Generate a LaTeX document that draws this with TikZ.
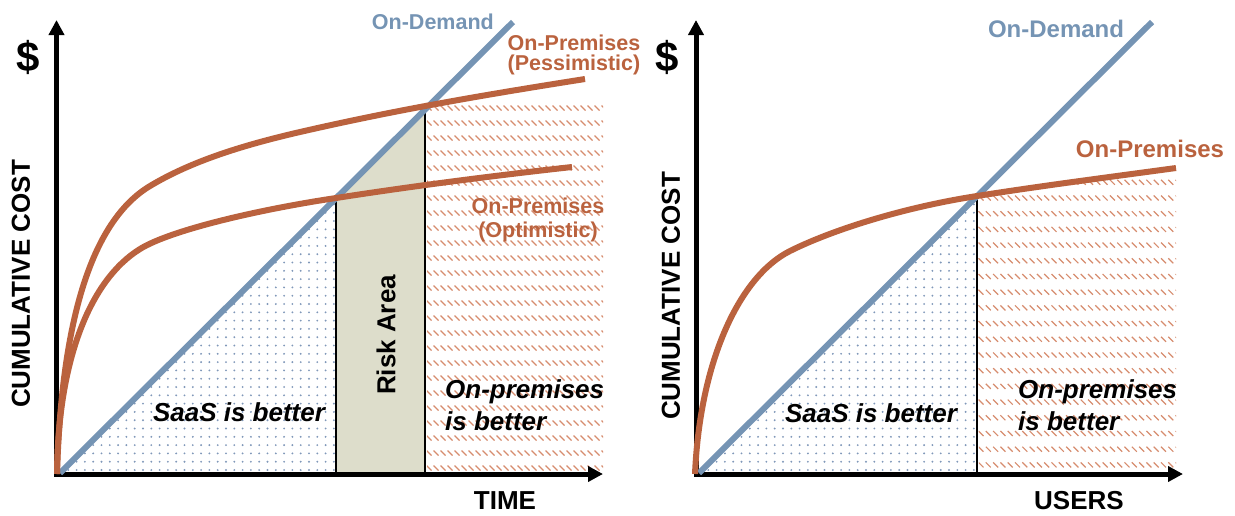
\documentclass[tikz,border=0pt]{standalone}
\usepackage{fontspec}
\setmainfont{Liberation Sans}
\usetikzlibrary{arrows.meta}
\definecolor{demand}{RGB}{117,148,180}
\definecolor{premise}{RGB}{186,98,62}
\definecolor{hatchc}{RGB}{214,140,110}
\definecolor{dotc}{RGB}{128,152,185}
\definecolor{riskc}{RGB}{221,221,203}
\tikzset{
  axisline/.style={line width=5pt,-{Triangle[length=15pt,width=15pt]}},
  demandline/.style={demand,line width=6pt},
  premline/.style={premise,line width=6pt},
  divider/.style={black,line width=1.5pt},
  hatchstroke/.style={hatchc,line width=1.2pt},
  dollar/.style={font=\bfseries\fontsize{42}{46}\selectfont,inner sep=0pt},
  axislabel/.style={font=\bfseries\fontsize{26}{29}\selectfont,inner sep=0pt},
  smalllbl/.style={font=\bfseries\fontsize{21.5}{25}\selectfont,inner sep=0pt},
  biglbl/.style={font=\bfseries\fontsize{24}{28}\selectfont,inner sep=0pt},
  regionlbl/.style={font=\bfseries\itshape\fontsize{26}{30}\selectfont,inner sep=0pt},
}
\begin{document}
\begin{tikzpicture}[x=1pt,y=-1pt]
\useasboundingbox (0,0) rectangle (1235,515);

% ---------------- left chart: cost over time ----------------
\coordinate (LO) at (56.5,474);
\coordinate (LYtop) at (56.5,20);
\coordinate (LXend) at (603,474);
\coordinate (LDa) at (60,473);
\coordinate (LDb) at (513,22);
\coordinate (LOpt) at (336,198.2);
\coordinate (LPes) at (425,109.6);
\coordinate (LOptB) at (336,474);
\coordinate (LPesB) at (425,474);

% dotted zone under the on-demand line
\begin{scope}
  \clip (58,474) -- (LOpt) -- (LOptB) -- cycle;
  \fill[dotc] \foreach \xx in {60,68.3,...,340} {\foreach \yy in {470,461.7,...,190} {(\xx,\yy) circle (1.05)}};
\end{scope}

% risk band between the two break-even points
\fill[riskc] (LOptB) -- (LOpt) -- (LPes) -- (LPesB) -- cycle;

% hatched zone where on-premises wins
\begin{scope}
  \clip (427,100) rectangle (603,471);
  \draw[hatchstroke] \foreach \yy in {108,123,...,470} {\foreach \xx in {429,436,...,606} {(\xx-2.5,\yy-2.5) -- (\xx+2.5,\yy+2.5)}};
\end{scope}

\draw[divider] (LOptB) -- (LOpt);
\draw[divider] (LPesB) -- (LPes);

\draw[axisline] (56.5,476.5) -- (LYtop);
\draw[axisline] (54,474) -- (LXend);

\draw[demandline] (LDa) -- (LDb);
% pessimistic on-premises cost
\draw[premline] (57,474) .. controls (61,340) and (85,225) .. (150,186)
  .. controls (190,162) and (240,145.8) .. (300,132)
  .. controls (400,109) and (490,94) .. (585,79);
% optimistic on-premises cost
\draw[premline] (57,474) .. controls (58,360) and (90,280) .. (140,249)
  .. controls (170,230.4) and (256,210) .. (336,198)
  .. controls (420,185) and (500,175) .. (572,167);

\node[dollar] (ldollar) at (28,57) {\$};
\node[axislabel,rotate=90] (lycap) at (21,284) {CUMULATIVE COST};
\node[axislabel] (lxcap) at (505,501) {TIME};
\node[smalllbl,demand,anchor=base east] (ldem) at (494,29) {On-Demand};
\node[smalllbl,premise,anchor=base] (lpes1) at (574,50) {On-Premises};
\node[smalllbl,premise,anchor=base] (lpes2) at (574,70) {(Pessimistic)};
\node[smalllbl,premise,anchor=base] (lopt1) at (538,213) {On-Premises};
\node[smalllbl,premise,anchor=base] (lopt2) at (538,237) {(Optimistic)};
\node[regionlbl,rotate=90] (lrisk) at (386,335) {\upshape Risk Area};
\node[regionlbl,anchor=base] (lsaas) at (239,421) {SaaS is better};
\node[regionlbl,anchor=base west] (lon1) at (445,398) {On-premises};
\node[regionlbl,anchor=base west] (lon2) at (445,430) {is better};

% ---------------- right chart: cost over users ----------------
\coordinate (RO) at (696,474);
\coordinate (RYtop) at (696,20);
\coordinate (RXend) at (1183,474);
\coordinate (RDa) at (699,473);
\coordinate (RDb) at (1152,22);
\coordinate (RBe) at (977,196.3);
\coordinate (RBeB) at (977,474);

\begin{scope}
  \clip (698,474) -- (RBe) -- (RBeB) -- cycle;
  \fill[dotc] \foreach \xx in {700,708.3,...,980} {\foreach \yy in {470,461.7,...,190} {(\xx,\yy) circle (1.05)}};
\end{scope}

\begin{scope}
  \clip (977,196) .. controls (1040,186) and (1110,177) .. (1176,168) -- (1176,471) -- (979,471) -- cycle;
  \draw[hatchstroke] \foreach \yy in {166.6,182.3,...,472} {\foreach \xx in {981,988.3,...,1180} {(\xx-2.5,\yy-2.5) -- (\xx+2.5,\yy+2.5)}};
\end{scope}

\draw[divider] (RBeB) -- (RBe);

\draw[axisline] (696,476.5) -- (RYtop);
\draw[axisline] (693.5,474) -- (RXend);

\draw[demandline] (RDa) -- (RDb);
\draw[premline] (695,474) .. controls (700,360) and (740,276) .. (790,251)
  .. controls (830,231) and (900,208) .. (977,196)
  .. controls (1040,186) and (1110,177) .. (1176,168);

\node[dollar] (rdollar) at (667,57) {\$};
\node[axislabel,rotate=90] (rycap) at (671,296) {CUMULATIVE COST};
\node[axislabel] (rxcap) at (1079,501) {USERS};
\node[biglbl,demand,anchor=base] (rdem) at (1056,37) {On-Demand};
\node[biglbl,premise,anchor=base] (rprem) at (1150,157) {On-Premises};
\node[regionlbl,anchor=base] (rsaas) at (871,422) {SaaS is better};
\node[regionlbl,anchor=base west] (ron1) at (1018,398) {On-premises};
\node[regionlbl,anchor=base west] (ron2) at (1018,430) {is better};
\end{tikzpicture}
\end{document}
